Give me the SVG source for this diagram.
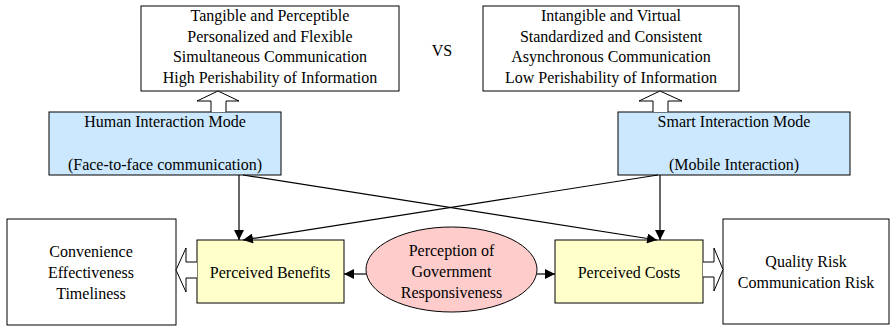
<svg xmlns="http://www.w3.org/2000/svg" width="890" height="327" viewBox="0 0 890 327">
<defs>
<style>
text{font-family:'Times New Roman','Liberation Serif','DejaVu Serif',serif;font-size:16px;fill:#000;text-anchor:middle}
.box{stroke:#000;stroke-width:1}
.w{fill:#fff}
.b{fill:#cce8ff}
.y{fill:#ffffcc}
.p{fill:#ffcccc}
.ln{stroke:#000;stroke-width:1.2;fill:none}
.hol{fill:#fff;stroke:#000;stroke-width:1}
</style>
<marker id="ah" viewBox="0 0 10 10" refX="10" refY="5" markerWidth="10" markerHeight="10" markerUnits="userSpaceOnUse" orient="auto">
<path d="M0,0 L10,5 L0,10 Z" fill="#000"/>
</marker>
</defs>
<rect width="890" height="327" fill="#fff"/>
<g id="human-traits">
<rect class="box w" x="141" y="6" width="258" height="85"/>
<text x="270" y="21">Tangible and Perceptible</text>
<text x="270" y="42">Personalized and Flexible</text>
<text x="270" y="62">Simultaneous Communication</text>
<text x="270" y="83">High Perishability of Information</text>
</g>
<g id="vs"><text x="442" y="56">VS</text></g>
<g id="smart-traits">
<rect class="box w" x="483" y="6" width="256" height="85"/>
<text x="611" y="21">Intangible and Virtual</text>
<text x="611" y="42">Standardized and Consistent</text>
<text x="611" y="62">Asynchronous Communication</text>
<text x="611" y="83">Low Perishability of Information</text>
</g>
<g id="human-mode">
<rect class="box b" x="49" y="112" width="232" height="63"/>
<text x="165" y="127">Human Interaction Mode</text>
<text x="165" y="170">(Face-to-face communication)</text>
</g>
<g id="smart-mode">
<rect class="box b" x="618" y="112" width="232" height="63"/>
<text x="734" y="127">Smart Interaction Mode</text>
<text x="734" y="170">(Mobile Interaction)</text>
</g>
<g id="benefit-items">
<rect class="box w" x="7" y="219" width="169" height="106"/>
<text x="91" y="257">Convenience</text>
<text x="91" y="278">Effectiveness</text>
<text x="91" y="299">Timeliness</text>
</g>
<g id="benefits">
<rect class="box y" x="197" y="240" width="147" height="63"/>
<text x="270" y="278">Perceived Benefits</text>
</g>
<g id="responsiveness">
<ellipse class="box p" cx="451.5" cy="269.5" rx="85.5" ry="42.5"/>
<text x="451.5" y="256">Perception of</text>
<text x="451.5" y="277">Government</text>
<text x="451.5" y="298">Responsiveness</text>
</g>
<g id="costs">
<rect class="box y" x="555" y="240" width="148" height="63"/>
<text x="629" y="278">Perceived Costs</text>
</g>
<g id="cost-items">
<rect class="box w" x="723" y="219" width="166" height="105"/>
<text x="806" y="267">Quality Risk</text>
<text x="806" y="288">Communication Risk</text>
</g>
<g id="connectors">
<path class="hol" d="M211,112 L211,101 L197,101 L218,91 L239,101 L226,101 L226,112"/>
<path class="hol" d="M653,112 L653,101 L639,101 L660,91 L682,101 L668,101 L668,112"/>
<path class="hol" d="M197,262 L186,262 L186,248 L176,270 L186,292 L186,278 L197,278"/>
<path class="hol" d="M703,262 L714,262 L714,248 L723,269.5 L714,291 L714,277 L703,277"/>
<line class="ln" x1="239" y1="175" x2="239" y2="240" marker-end="url(#ah)"/>
<line class="ln" x1="243" y1="175" x2="657" y2="240" marker-end="url(#ah)"/>
<line class="ln" x1="660" y1="175" x2="660" y2="240" marker-end="url(#ah)"/>
<line class="ln" x1="658" y1="175" x2="243" y2="240" marker-end="url(#ah)"/>
<line class="ln" x1="366" y1="274" x2="344" y2="274" marker-end="url(#ah)"/>
<line class="ln" x1="537" y1="274" x2="555" y2="274" marker-end="url(#ah)"/>
</g>
</svg>
